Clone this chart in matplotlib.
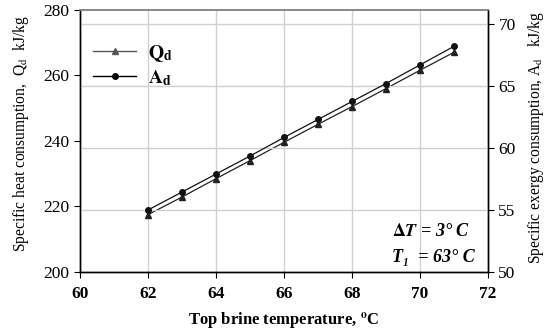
import matplotlib
matplotlib.use("Agg")
import matplotlib.pyplot as plt
from matplotlib.lines import Line2D

plt.rcParams['font.family'] = ['Liberation Serif', 'DejaVu Serif']
plt.rcParams['mathtext.fontset'] = 'stix'

temperature = [62, 63, 64, 65, 66, 67, 68, 69, 70, 71]
heat_Qd = [217.5, 222.9, 228.5, 234.0, 239.6, 245.1, 250.5, 256.0, 261.6, 267.1]
exergy_Ad = [55.0, 56.45, 57.9, 59.35, 60.85, 62.3, 63.75, 65.2, 66.7, 68.2]
x_ticks = [60, 62, 64, 66, 68, 70, 72]
left_ticks = [200, 220, 240, 260, 280]
right_ticks = [50, 55, 60, 65, 70]

W, H = 546, 331
fig = plt.figure(figsize=(W / 100, H / 100), dpi=100)
ax = fig.add_axes([80 / W, 1 - 272 / H, 408 / W, 262 / H])
ax2 = ax.twinx()

ax.set_xlim(60, 72)
ax.set_ylim(200, 280)
ax2.set_ylim(50, 50 + 262 / 62 * 5)

ax.set_xticks(x_ticks)
ax.set_yticks(left_ticks)
ax2.set_yticks(right_ticks)

# grid: vertical on x ticks, horizontal following right axis
for xv in x_ticks[1:-1]:
    ax.axvline(xv, color='#d0d0d0', lw=1.0, zorder=0)
for yv in right_ticks[1:]:
    ax2.axhline(yv, color='#d0d0d0', lw=1.0, zorder=0)

ax.plot(temperature, heat_Qd, color='#222222', lw=0.9, marker='^', ms=4, zorder=3)
ax2.plot(temperature, exergy_Ad, color='#111111', lw=0.9, marker='o', ms=4, zorder=3)

for a in (ax, ax2):
    a.spines['top'].set_color('#888888')
    a.spines['top'].set_linewidth(1.2)
    for s in ('left', 'right', 'bottom'):
        a.spines[s].set_color('black')
        a.spines[s].set_linewidth(1.0)

ax.tick_params(axis='x', direction='out', length=4, labelsize=12.5, pad=6)
for lab in ax.get_xticklabels():
    lab.set_fontweight('bold')
ax.tick_params(axis='y', direction='out', length=4, labelsize=12.5)
ax2.tick_params(axis='y', direction='out', length=4, labelsize=12.5)

ax.set_xlabel('Top brine temperature, $^{\\mathbf{o}}$C', fontsize=12, fontweight='bold')
ax.xaxis.set_label_coords(0.5, -0.145)

fig.text(21 / W, 1 - 134 / H, 'Specific heat consumption,  Q$_{\\rm d}$  kJ/kg',
         fontsize=11.2, rotation=90, ha='center', va='center')
fig.text(536 / W, 1 - 138 / H, 'Specific exergy consumption, A$_{\\rm d}$   kJ/kg',
         fontsize=11.2, rotation=90, ha='center', va='center')

handles = [Line2D([], [], color='#555555', lw=1.0, marker='^', ms=4),
           Line2D([], [], color='black', lw=1.0, marker='o', ms=4)]
labels = [r'$\mathbf{Q}_{\mathbf{d}}$', r'$\mathbf{A}_{\mathbf{d}}$']
ax.legend(handles, labels, loc='upper left', bbox_to_anchor=(-0.01, 0.94), frameon=False,
          fontsize=14, handlelength=2.2, handletextpad=0.6, labelspacing=0.2)

ax.text(0.765, 0.155, '$\\boldsymbol{\\Delta T}$ = 3° C', transform=ax.transAxes,
        fontsize=13, fontweight='bold', fontstyle='italic', ha='left', va='center')
ax.text(0.765, 0.055, 'T₁  = 63° C', transform=ax.transAxes,
        fontsize=13, fontweight='bold', fontstyle='italic', ha='left', va='center')

fig.savefig('out.png', dpi=100)
